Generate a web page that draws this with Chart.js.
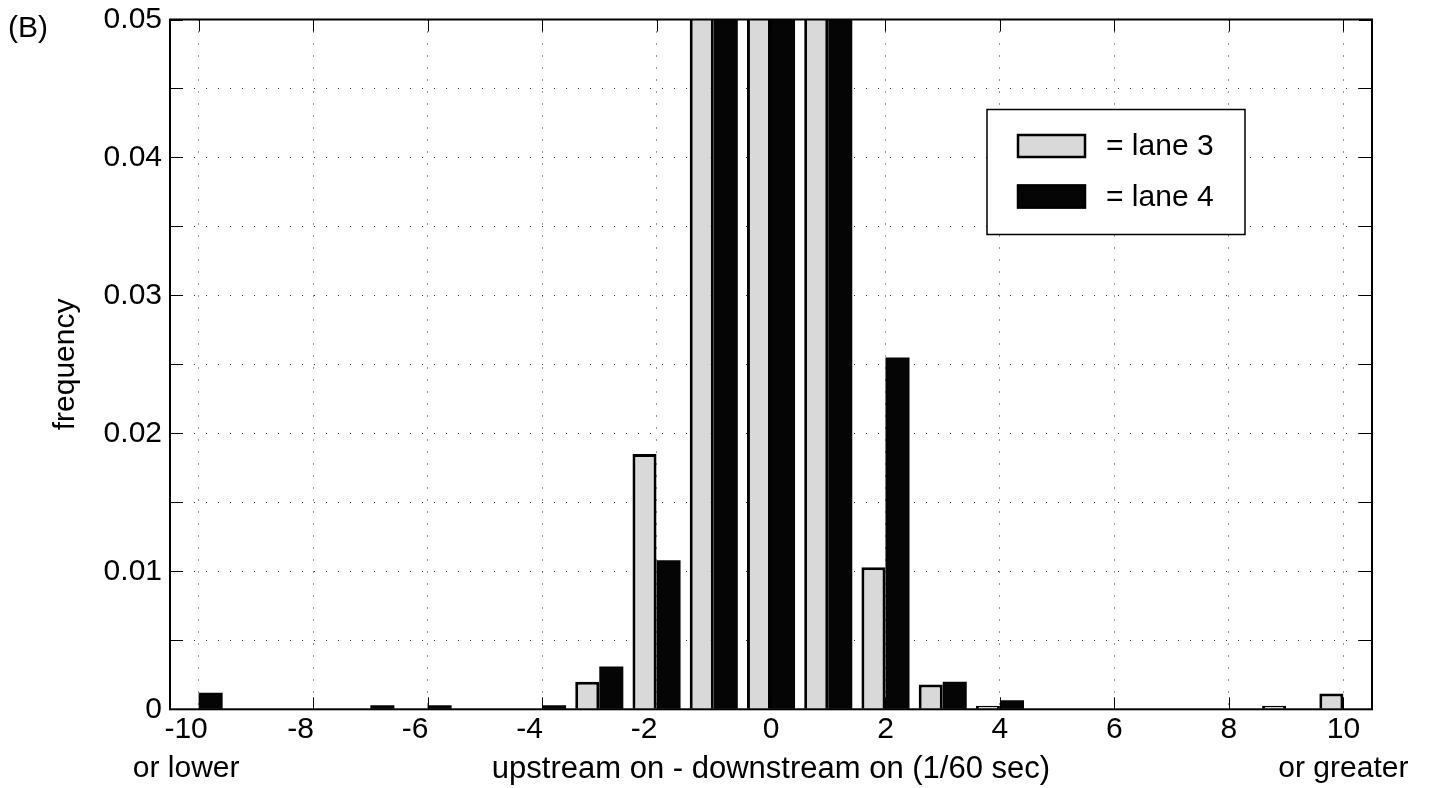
<!DOCTYPE html>
<html>
<head>
<meta charset="utf-8">
<script src="https://cdn.jsdelivr.net/npm/chart.js@4.4.1/dist/chart.umd.min.js"></script>
<style>
  html, body { margin: 0; padding: 0; background: #fff; }
</style>
</head>
<body>
<canvas id="chart" width="1431" height="788"></canvas>
<script>
// histogram bins: -10 means "-10 or lower", 10 means "10 or greater"
const categories = ['-10', '-9', '-8', '-7', '-6', '-5', '-4', '-3', '-2', '-1', '0',
                    '1', '2', '3', '4', '5', '6', '7', '8', '9', '10'];
// negative labels sit a little left of their tick in the original, hence the trailing spaces
const xTickLabels = [['-10   ', 'or lower   '], '', '-8   ', '', '-6   ', '', '-4   ', '', '-2   ', '', '0',
                     '', '2', '', '4', '', '6', '', '8', '', ['10', 'or greater']];
const yTickLabels = ['0', '', '0.01', '', '0.02', '', '0.03', '', '0.04', '', '0.05'];

// frequencies (bins -1, 0, 1 run far above the 0.05 axis limit)
const lane3 = [0, 0, 0, 0, 0, 0, 0, 0.0020, 0.0185, 0.16, 0.64,
               0.166, 0.0103, 0.0018, 0.00025, 0, 0, 0, 0, 0.00025, 0.00115];
const lane4 = [0.0012, 0, 0, 0.0003, 0.0003, 0, 0.0003, 0.0031, 0.0108, 0.14, 0.62,
               0.196, 0.0255, 0.0020, 0.00065, 0, 0, 0, 0, 0, 0];

const FONT = '"Liberation Sans", Arial, sans-serif';
Chart.defaults.font.family = FONT;
Chart.defaults.color = '#000';

const gridColor = '#333';

// box, inward ticks, legend and panel letter
const frame = {
  id: 'frame',
  afterDatasetsDraw(chart) {
    const { ctx, chartArea: a, scales: { x, y } } = chart;
    ctx.save();
    ctx.strokeStyle = '#000';
    ctx.lineWidth = 1;
    ctx.beginPath();
    y.ticks.forEach(t => {
      const py = Math.round(y.getPixelForValue(t.value)) + 0.5;
      ctx.moveTo(a.left, py); ctx.lineTo(a.left + 13, py);
      ctx.moveTo(a.right, py); ctx.lineTo(a.right - 13, py);
    });
    x.ticks.forEach((t, i) => {
      if (i % 2) return;
      const px = Math.round(x.getPixelForTick(i)) + 0.5;
      ctx.moveTo(px, a.bottom); ctx.lineTo(px, a.bottom - 12);
      ctx.moveTo(px, a.top); ctx.lineTo(px, a.top + 12);
    });
    ctx.stroke();

    ctx.lineWidth = 2;
    ctx.strokeRect(a.left, a.top, a.right - a.left, a.bottom - a.top);

    // legend
    const lx = 987, ly = 109.5, lw = 258, lh = 125;
    ctx.fillStyle = '#fff';
    ctx.fillRect(lx, ly, lw, lh);
    ctx.lineWidth = 1.5;
    ctx.strokeRect(lx, ly, lw, lh);
    ctx.font = '30px ' + FONT;
    ctx.textBaseline = 'middle';
    ctx.textAlign = 'left';
    chart.data.datasets.forEach((ds, i) => {
      const sy = 134 + i * 50.5;
      ctx.fillStyle = ds.backgroundColor;
      ctx.fillRect(1017, sy, 69, 24);
      ctx.lineWidth = 2.5;
      ctx.strokeStyle = '#000';
      ctx.strokeRect(1018, sy + 1, 67, 22);
      ctx.fillStyle = '#000';
      ctx.fillText('= ' + ds.label, 1106, sy + 13);
    });

    ctx.textBaseline = 'alphabetic';
    ctx.fillText('(B)', 8, 37);
    ctx.restore();
  }
};

new Chart(document.getElementById('chart'), {
  type: 'bar',
  data: {
    labels: categories,
    datasets: [
      {
        label: 'lane 3',
        data: lane3,
        backgroundColor: '#d9d9d9',
        borderColor: '#000',
        borderWidth: 3,
        clip: 0,
      },
      {
        label: 'lane 4',
        data: lane4,
        backgroundColor: '#050505',
        borderColor: '#050505',
        borderWidth: 0,
        clip: 0,
      },
    ],
  },
  options: {
    responsive: false,
    animation: false,
    categoryPercentage: 0.84,
    barPercentage: 1.0,
    layout: { padding: { left: 0, right: 59, top: 19.5, bottom: 0 } },
    plugins: {
      legend: { display: false },
      tooltip: { enabled: false },
    },
    scales: {
      x: {
        offset: true,
        grid: {
          offset: false,
          drawTicks: false,
          lineWidth: 1,
          color: ctx => (ctx.index % 2 === 0 ? gridColor : 'rgba(0,0,0,0)'),
        },
        border: { display: false, dash: [1, 11] },
        ticks: {
          autoSkip: false,
          maxRotation: 0,
          minRotation: 0,
          padding: 1,
          font: { size: 30, lineHeight: 1.3 },
          callback: (v, i) => xTickLabels[i],
        },
        title: {
          display: true,
          text: 'upstream on - downstream on (1/60 sec)',
          font: { size: 31 },
          padding: { top: 0, bottom: 0 },
        },
        afterFit: s => { s.height = 78.7; s.paddingLeft = 0; s.paddingRight = 0; },
      },
      y: {
        min: 0,
        max: 0.05,
        grid: { drawTicks: false, lineWidth: 1, color: gridColor },
        border: { display: false, dash: [1, 11] },
        ticks: {
          stepSize: 0.005,
          padding: 8,
          font: { size: 30 },
          callback: (v, i) => yTickLabels[i],
        },
        title: {
          display: true,
          text: 'frequency',
          font: { size: 30 },
          padding: { top: 48, bottom: 0 },
        },
        afterFit: s => { s.width = 170; s.paddingTop = 0; s.paddingBottom = 0; },
      },
    },
  },
  plugins: [frame],
});
</script>
</body>
</html>
